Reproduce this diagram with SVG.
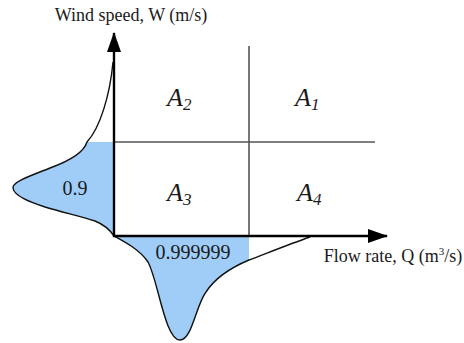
<svg xmlns="http://www.w3.org/2000/svg" width="464" height="343" viewBox="0 0 464 343">
<style>
text{font-family:'Liberation Serif','Times New Roman','DejaVu Serif',serif;fill:#1a1a1a}
.lbl{font-size:18px}
.num{font-size:20px}
.area{font-style:italic;font-size:26px}
.sub{font-size:17px}
.grid{stroke:#555;stroke-width:1.6;fill:none}
.axis{stroke:#000;stroke-width:2.4;fill:none}
.curve{stroke:#111;stroke-width:1.4;fill:none}
.fill{fill:#9fcdf8;stroke:none}
</style>
<defs>
<marker id="arr" viewBox="0 0 20 14" refX="19" refY="7" markerWidth="20" markerHeight="14" markerUnits="userSpaceOnUse" orient="auto">
<path d="M0,0 L20,7 L0,14 Z" fill="#000"/>
</marker>
</defs>
<g id="wind-distribution">
<path class="fill" d="M87,142 C84,152 72,160 50,168 C30,176 12,182 13,188 C14,196 30,202 45,207 C65,213 80,216 95,221 C105,225 110,230 114,236 L114,142 Z"/>
<path class="curve" d="M113,62 C110,95 100,128 87,142 C84,152 72,160 50,168 C30,176 12,182 13,188 C14,196 30,202 45,207 C65,213 80,216 95,221 C105,225 110,230 114,236"/>
<text class="num" x="75" y="195" text-anchor="middle">0.9</text>
</g>
<g id="flow-distribution">
<path class="fill" d="M114,236 C125,242 140,250 148,262 C158,280 165,340 180,340 C192,340 196,305 206,292 C215,278 230,268 249,260 L249,236 Z"/>
<path class="curve" d="M114,236 C125,242 140,250 148,262 C158,280 165,340 180,340 C192,340 196,305 206,292 C215,278 230,268 249,260 C270,252 290,244 310,237"/>
<text class="num" x="193" y="259" text-anchor="middle">0.999999</text>
</g>
<g id="connectors">
<line class="grid" x1="114" y1="142" x2="375" y2="142"/>
<line class="grid" x1="249" y1="46" x2="249" y2="236"/>
<line class="axis" x1="114" y1="237" x2="114" y2="33" marker-end="url(#arr)"/>
<line class="axis" x1="113" y1="236" x2="387" y2="236" marker-end="url(#arr)"/>
</g>
<g id="axis-labels">
<text class="lbl" x="131" y="21" text-anchor="middle">Wind speed, W (m/s)</text>
<text class="lbl" x="393" y="262" text-anchor="middle">Flow rate, Q (m<tspan font-size="11" dy="-7">3</tspan><tspan dy="7">/s)</tspan></text>
</g>
<g id="A2"><text class="area" x="167" y="106">A<tspan class="sub" dy="4">2</tspan></text></g>
<g id="A1"><text class="area" x="295" y="106">A<tspan class="sub" dy="4">1</tspan></text></g>
<g id="A3"><text class="area" x="167" y="201">A<tspan class="sub" dy="4">3</tspan></text></g>
<g id="A4"><text class="area" x="297" y="201">A<tspan class="sub" dy="4">4</tspan></text></g>
</svg>
